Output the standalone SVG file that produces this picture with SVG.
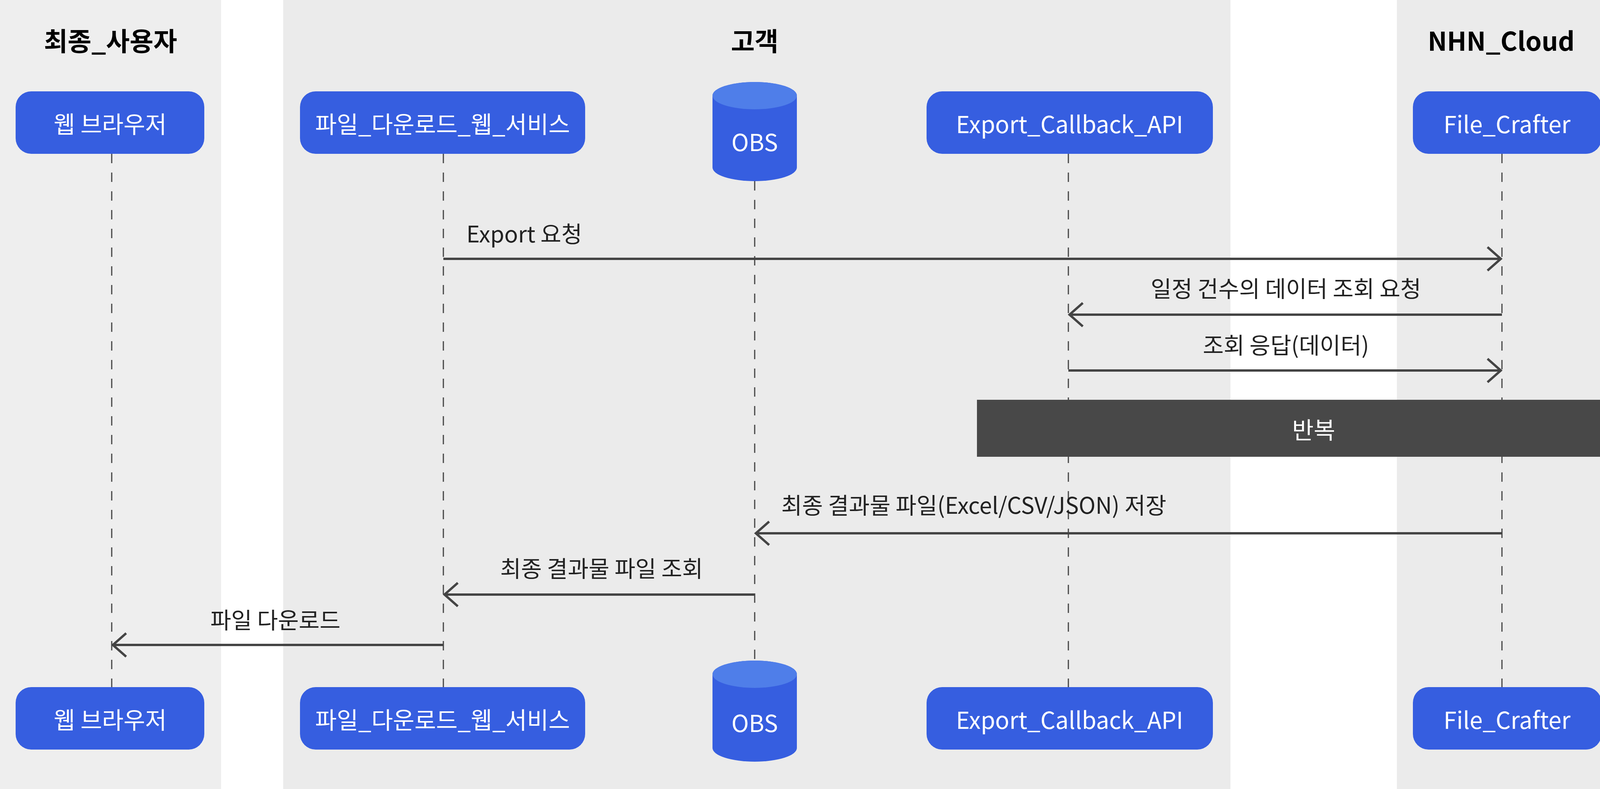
<svg xmlns="http://www.w3.org/2000/svg" width="4226" height="2021" viewBox="0 0 4226 2021">
<style>
.hd{font-family:"Noto Sans CJK KR","Noto Sans",sans-serif;font-weight:bold;font-size:66px;fill:#000;text-anchor:middle}
.bx{fill:#365ee0}
.bt{font-family:"Noto Sans CJK KR","Noto Sans",sans-serif;font-size:60px;fill:#fff;text-anchor:middle;dominant-baseline:central}
.ll{stroke:#444;stroke-width:3;stroke-dasharray:24 24;fill:none}
.ms{stroke:#444;stroke-width:6;fill:none;marker-end:url(#ah)}
.lb{font-family:"Noto Sans CJK KR","Noto Sans",sans-serif;font-size:58px;fill:#222;text-anchor:middle;dominant-baseline:central}
</style>
<defs>
<marker id="ah" markerUnits="userSpaceOnUse" markerWidth="60" markerHeight="80" viewBox="-40 -40 60 80" refX="0" refY="0" orient="auto">
<path d="M-34,-30 L0,0 L-34,30" fill="none" stroke="#444" stroke-width="6"/>
</marker>
</defs>
<rect x="0" y="0" width="566" height="2021" fill="#eeeeee"/>
<rect x="725" y="0" width="2425" height="2021" fill="#ebebeb"/>
<rect x="3576" y="0" width="567" height="2021" fill="#ebebeb"/>
<text class="hd" x="283" y="130">최종_사용자</text>
<text class="hd" x="1932" y="130">고객</text>
<text class="hd" x="3843" y="130">NHN_Cloud</text>
<g id="lifelines">
<line class="ll" x1="286" y1="394" x2="286" y2="1760"/>
<line class="ll" x1="1135" y1="394" x2="1135" y2="1760"/>
<line class="ll" x1="1932" y1="464" x2="1932" y2="1692"/>
<line class="ll" x1="2735" y1="394" x2="2735" y2="1760"/>
<line class="ll" x1="3845" y1="394" x2="3845" y2="1760"/>
</g>
<g id="loop">
<rect x="2501" y="1024" width="1725" height="146" fill="#484848"/>
<text class="bt" x="3363" y="1097">반복</text>
</g>
<g id="connectors">
<line class="ms" x1="1135" y1="663" x2="3842" y2="663"/>
<text class="lb" x="1194" y="596" style="text-anchor:start">Export 요청</text>
<line class="ms" x1="3845" y1="806" x2="2738" y2="806"/>
<text class="lb" x="3292" y="736">일정 건수의 데이터 조회 요청</text>
<line class="ms" x1="2735" y1="949" x2="3842" y2="949"/>
<text class="lb" x="3292" y="881">조회 응답(데이터)</text>
<line class="ms" x1="3845" y1="1366" x2="1935" y2="1366"/>
<text class="lb" x="2000" y="1291" style="text-anchor:start">최종 결과물 파일(Excel/CSV/JSON) 저장</text>
<line class="ms" x1="1932" y1="1523" x2="1138" y2="1523"/>
<text class="lb" x="1540" y="1453">최종 결과물 파일 조회</text>
<line class="ms" x1="1135" y1="1652" x2="289" y2="1652"/>
<text class="lb" x="705" y="1585">파일 다운로드</text>
</g>
<g id="p1"><rect class="bx" x="40" y="234" width="483" height="160" rx="40"/><text class="bt" x="282" y="314">웹 브라우저</text></g>
<g id="p2"><rect class="bx" x="768" y="234" width="730" height="160" rx="40"/><text class="bt" x="1133" y="314">파일_다운로드_웹_서비스</text></g>
<g id="p3"><path class="bx" d="M1824,245 L1824,429 A108,35 0 0 0 2040,429 L2040,245 A108,35 0 0 0 1824,245 Z"/><ellipse cx="1932" cy="245" rx="108" ry="35" fill="#4f7ee9"/><text class="bt" x="1932" y="360">OBS</text></g>
<g id="p4"><rect class="bx" x="2372" y="234" width="733" height="160" rx="40"/><text class="bt" x="2738" y="314">Export_Callback_API</text></g>
<g id="p5"><rect class="bx" x="3617" y="234" width="483" height="160" rx="40"/><text class="bt" x="3858" y="314">File_Crafter</text></g>
<g id="p1b"><rect class="bx" x="40" y="1760" width="483" height="160" rx="40"/><text class="bt" x="282" y="1840">웹 브라우저</text></g>
<g id="p2b"><rect class="bx" x="768" y="1760" width="730" height="160" rx="40"/><text class="bt" x="1133" y="1840">파일_다운로드_웹_서비스</text></g>
<g id="p3b"><path class="bx" d="M1824,1727 L1824,1916 A108,35 0 0 0 2040,1916 L2040,1727 A108,35 0 0 0 1824,1727 Z"/><ellipse cx="1932" cy="1727" rx="108" ry="35" fill="#4f7ee9"/><text class="bt" x="1932" y="1848">OBS</text></g>
<g id="p4b"><rect class="bx" x="2372" y="1760" width="733" height="160" rx="40"/><text class="bt" x="2738" y="1840">Export_Callback_API</text></g>
<g id="p5b"><rect class="bx" x="3617" y="1760" width="483" height="160" rx="40"/><text class="bt" x="3858" y="1840">File_Crafter</text></g>
</svg>
